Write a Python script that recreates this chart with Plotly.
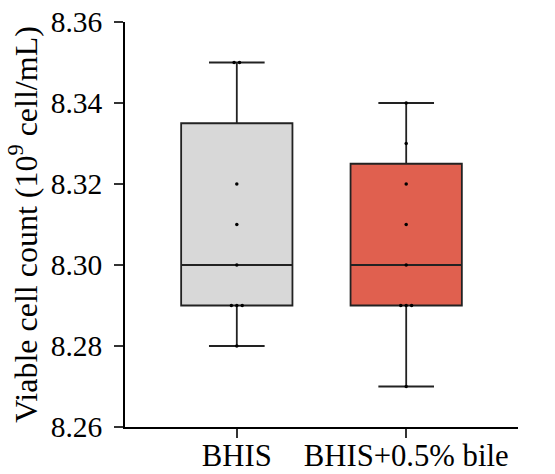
import plotly.graph_objects as go
from collections import Counter

categories = ["BHIS", "BHIS+0.5% bile"]
bhis_values = [8.28, 8.29, 8.29, 8.29, 8.30, 8.31, 8.32, 8.35, 8.35]
bile_values = [8.27, 8.29, 8.29, 8.29, 8.30, 8.31, 8.32, 8.33, 8.34]
series = [bhis_values, bile_values]
fill_colors = ["#d8d8d8", "#e0604f"]
y_ticks = [8.26, 8.28, 8.30, 8.32, 8.34, 8.36]

FONT = "'Liberation Serif', 'Times New Roman', Times, serif"

fig = go.Figure()

for i, (cat, vals) in enumerate(zip(categories, series)):
    fig.add_trace(go.Box(
        x=[i] * len(vals), y=vals, name=cat,
        quartilemethod="exclusive", boxpoints=False,
        width=0.657, whiskerwidth=0.5,
        fillcolor=fill_colors[i],
        line=dict(color="#222222", width=1.8),
        showlegend=False,
    ))

# data points, duplicates spread slightly sideways
for i, vals in enumerate(series):
    counts = Counter(vals)
    seen = Counter()
    xs, ys = [], []
    for v in vals:
        k = counts[v]
        j = seen[v]
        seen[v] += 1
        xs.append(i + (j - (k - 1) / 2) * 0.032)
        ys.append(v)
    fig.add_trace(go.Scatter(
        x=xs, y=ys, mode="markers",
        marker=dict(color="black", size=3.5),
        showlegend=False, hoverinfo="y",
    ))

fig.update_layout(
    width=555, height=474,
    margin=dict(l=125, r=37, t=22, b=47, autoexpand=False),
    paper_bgcolor="white", plot_bgcolor="white",
    font=dict(family=FONT, size=30, color="black"),
    xaxis=dict(
        range=[-0.66, 1.66], automargin=False,
        tickmode="array", tickvals=[0, 1], ticktext=categories,
        showline=True, linecolor="black", linewidth=1.5,
        ticks="outside", ticklen=9, tickwidth=1.5, tickcolor="#333",
        ticklabelstandoff=-9,
        showgrid=False, zeroline=False,
        tickfont=dict(family=FONT, size=30.7, color="black"),
    ),
    yaxis=dict(
        range=[8.26, 8.36], automargin=False,
        tickmode="array", tickvals=y_ticks,
        ticktext=[f"{t:.2f}" for t in y_ticks],
        showline=True, linecolor="black", linewidth=1.5,
        ticks="outside", ticklen=9, tickwidth=1.5, tickcolor="#333",
        ticklabelstandoff=6,
        showgrid=False, zeroline=False,
        tickfont=dict(family=FONT, size=29.5, color="black"),
        title=dict(text="Viable cell count (10<sup>9</sup> cell/mL)",
                   font=dict(family=FONT, size=32, color="black"),
                   standoff=4),
    ),
)

fig.write_html("out.html")
